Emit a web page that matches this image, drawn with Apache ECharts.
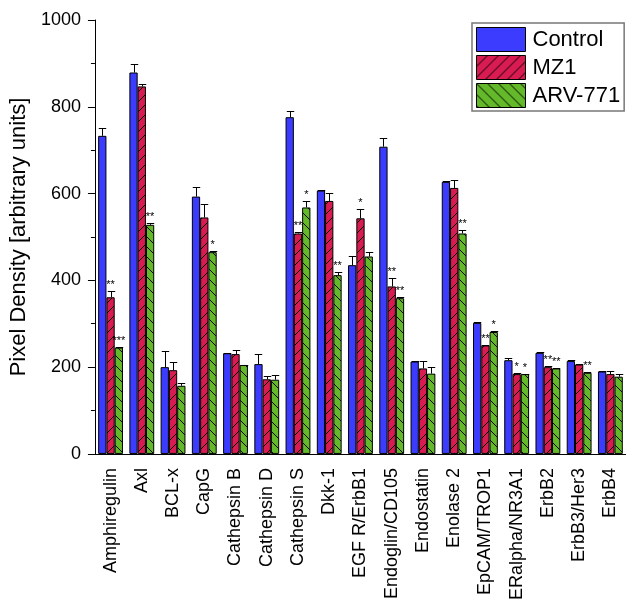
<!DOCTYPE html>
<html>
<head>
<meta charset="utf-8">
<script src="https://cdn.jsdelivr.net/npm/echarts@6/dist/echarts.min.js"></script>
<style>
  html, body { margin: 0; padding: 0; background: #fff; }
  #chart { width: 626px; height: 603px; }
</style>
</head>
<body>
<div id="chart"></div>
<script>
// Angiogenesis / oncology array readout: mean pixel density per analyte
const categories = [
  'Amphiregulin', 'Axl', 'BCL-x', 'CapG', 'Cathepsin B', 'Cathepsin D',
  'Cathepsin S', 'Dkk-1', 'EGF R/ErbB1', 'Endoglin/CD105', 'Endostatin',
  'Enolase 2', 'EpCAM/TROP1', 'ERalpha/NR3A1', 'ErbB2', 'ErbB3/Her3', 'ErbB4'
];
const seriesNames = ['Control', 'MZ1', 'ARV-771'];

const control    = [733, 879, 200, 593, 232, 207, 776, 607, 435, 708, 213, 627, 302, 216, 233, 214, 190];
const controlErr = [ 19,  19,  37,  21,   1,  23,  15,   1,  20,  21,   1,   1,   1,   6,   1,   3,   2];
const mz1        = [361, 847, 193, 545, 230, 172, 508, 583, 543, 386, 197, 613, 250, 184, 200, 206, 184];
const mz1Err     = [ 15,   5,  19,  31,  10,   8,   3,  19,  21,  20,  18,  18,   2,   2,   2,   1,   8];
const arv        = [245, 528, 157, 465, 205, 171, 568, 412, 455, 359, 185, 508, 281, 184, 197, 187, 178];
const arvErr     = [  2,   5,   7,   3,   1,  12,  16,   8,  10,   2,  16,   7,   2,   1,   2,   2,   7];

// significance marks drawn above each treated bar
const mz1Sig = ['**', '', '', '', '', '', '**', '', '*', '**', '', '', '**', '*', '**', '', ''];
const arvSig = ['***', '**', '', '*', '', '', '*', '**', '', '**', '', '**', '*', '*', '**', '**', ''];
const controlSig = categories.map(() => '');

const yTicks = { min: 0, max: 1000, interval: 200 };

const FONT = '"Liberation Sans", Arial, Helvetica, sans-serif';
const BAR_FRAC = 0.265;
const BLUE = '#3c3cff', RED = '#d81b50', GREEN = '#64b92a';

// Hatched fill tiles with crisp one-pixel diagonals: '/' for MZ1, '\' for ARV-771
function hatch(base, size, dir) {
  const c = document.createElement('canvas');
  c.width = size; c.height = size;
  const g = c.getContext('2d');
  g.fillStyle = base;
  g.fillRect(0, 0, size, size);
  g.fillStyle = '#000';
  for (let x = 0; x < size; x++) {
    const y = dir === '/' ? size - 1 - x : x;
    g.fillRect(x, y, 1, 1);
  }
  return { image: c, repeat: 'repeat' };
}

const fills = [BLUE, hatch(RED, 10, '/'), hatch(GREEN, 10, '\\')];
const legendFills = [BLUE, hatch(RED, 11, '/'), hatch(GREEN, 11, '\\')];

function barSeries(k, values) {
  return {
    name: seriesNames[k],
    type: 'bar',
    data: values,
    barWidth: (BAR_FRAC * 100) + '%',
    barGap: '0%',
    itemStyle: { color: fills[k], borderColor: '#000', borderWidth: 1 },
    z: 2
  };
}

// Upper error whisker with cap plus significance asterisks
function errorSeries(k, values, errs, sigs) {
  return {
    type: 'custom',
    silent: true,
    z: 5,
    data: values.map((v, i) => [i, v, errs[i]]),
    renderItem(params, api) {
      const i = api.value(0), v = api.value(1), e = api.value(2);
      const catW = api.size([1, 0])[0];
      const bw = catW * BAR_FRAC;
      const base = api.coord([i, v]);
      const top = api.coord([i, v + e]);
      const xc = base[0] + (k - 1) * bw;
      const x = Math.round(xc) + 0.5;
      const yt = Math.round(top[1]) + 0.5;
      const cap = bw * 0.45;
      const children = [
        { type: 'line', shape: { x1: x, y1: base[1], x2: x, y2: yt }, style: { stroke: '#000', lineWidth: 1 } },
        { type: 'line', shape: { x1: x - cap, y1: yt, x2: x + cap, y2: yt }, style: { stroke: '#000', lineWidth: 1 } }
      ];
      const s = sigs[params.dataIndex];
      if (s) {
        children.push({
          type: 'text',
          style: { text: s, x: xc, y: top[1] - 6, align: 'center', verticalAlign: 'middle',
                   fontSize: 11, fontFamily: FONT, fill: '#000' }
        });
      }
      return { type: 'group', children };
    }
  };
}

const chart = echarts.init(document.getElementById('chart'), null, { renderer: 'canvas' });

chart.setOption({
  animation: false,
  backgroundColor: '#fff',
  grid: { left: 92, top: 20, width: 538, height: 434, containLabel: false },
  legend: {
    orient: 'vertical',
    left: 472,
    top: 23,
    padding: [4, 4, 3, 4],
    itemGap: 3,
    itemWidth: 49,
    itemHeight: 24,
    icon: 'rect',
    borderColor: '#777',
    borderWidth: 1.5,
    backgroundColor: '#fff',
    textStyle: { fontSize: 22, fontFamily: FONT, color: '#000', padding: [0, 0, 0, 2] },
    data: seriesNames.map((n, k) => ({
      name: n,
      itemStyle: { color: legendFills[k], borderColor: '#000', borderWidth: 1 }
    }))
  },
  xAxis: [
    {
      type: 'category',
      data: categories,
      axisLine: { lineStyle: { color: '#000', width: 1 } },
      axisTick: { alignWithLabel: true, length: 8, lineStyle: { color: '#000' } },
      axisLabel: { rotate: 90, fontSize: 18, fontFamily: FONT, color: '#000', margin: 14, interval: 0 },
      splitLine: { show: false }
    },
    {
      type: 'category',
      data: categories,
      position: 'bottom',
      axisLine: { show: false },
      axisTick: { length: 4, lineStyle: { color: '#000' } },
      axisLabel: { show: false },
      splitLine: { show: false }
    }
  ],
  yAxis: {
    type: 'value',
    min: yTicks.min,
    max: yTicks.max,
    interval: yTicks.interval,
    name: 'Pixel Density [arbitrary units]',
    nameLocation: 'middle',
    nameGap: 59,
    nameTextStyle: { fontSize: 22, fontFamily: FONT, color: '#000' },
    axisLine: { show: true, lineStyle: { color: '#000', width: 1 } },
    axisTick: { show: true, length: 7, lineStyle: { color: '#000' } },
    minorTick: { show: true, splitNumber: 2, length: 4, lineStyle: { color: '#000' } },
    axisLabel: { fontSize: 18, fontFamily: FONT, color: '#000', margin: 14, formatter: v => String(v) },
    splitLine: { show: false }
  },
  series: [
    barSeries(0, control),
    barSeries(1, mz1),
    barSeries(2, arv),
    errorSeries(0, control, controlErr, controlSig),
    errorSeries(1, mz1, mz1Err, mz1Sig),
    errorSeries(2, arv, arvErr, arvSig)
  ]
});
</script>
</body>
</html>
